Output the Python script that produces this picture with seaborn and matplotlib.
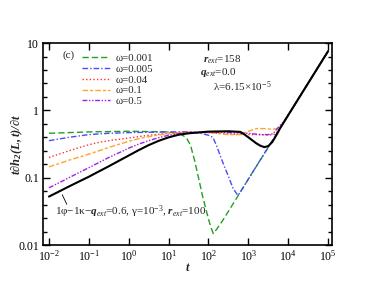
import numpy as np
import pandas as pd
import matplotlib
matplotlib.use("Agg")
import matplotlib.pyplot as plt
import matplotlib.ticker as mticker
import seaborn as sns

# ---------------- data ----------------
t_black = [0.01, 0.0178, 0.0316, 0.0562, 0.1, 0.178, 0.316, 0.562, 1, 1.78, 3.16, 5.62,
           10, 17.8, 31.6, 100, 316, 631, 794, 1000, 1259, 1585, 1995, 2512, 3162,
           3981, 5012, 6310, 1e4, 3.16e4, 1e5]
y_black = [0.0525, 0.0624, 0.0741, 0.0877, 0.1035, 0.124, 0.148, 0.178, 0.214, 0.257,
           0.305, 0.353, 0.398, 0.435, 0.457, 0.484, 0.490, 0.479, 0.44, 0.398, 0.359,
           0.324, 0.299, 0.285, 0.295, 0.339, 0.427, 0.548, 0.851, 2.54, 7.59]

t_w0001 = [0.01, 0.1, 1, 10, 20, 28.2, 35.5, 44.7, 56.2, 70.8, 89.1, 112, 132, 158,
           224, 347, 575, 1000, 3162, 1e4, 3.16e4, 1e5]
y_w0001 = [0.457, 0.479, 0.490, 0.479, 0.447, 0.389, 0.302, 0.182, 0.100, 0.0537,
           0.0316, 0.0191, 0.0148, 0.0170, 0.0229, 0.0347, 0.0562, 0.0955, 0.284,
           0.851, 2.54, 7.59]

t_w0005 = [0.01, 0.0316, 0.1, 0.316, 1, 10, 31.6, 63.1, 100, 129, 158, 229, 316, 407,
           537, 603, 1000, 3162, 1e4, 3.16e4, 1e5]
y_w0005 = [0.355, 0.398, 0.437, 0.457, 0.468, 0.479, 0.479, 0.457, 0.427, 0.398,
           0.302, 0.168, 0.105, 0.0708, 0.055, 0.0589, 0.0955, 0.285, 0.851, 2.54, 7.59]

t_w004 = [0.01, 0.0178, 0.0316, 0.0562, 0.1, 0.178, 0.316, 0.562, 1, 3.16, 10, 31.6,
          100, 316, 1000, 1995, 3162, 4467, 5623, 7079, 1e4, 3.16e4, 1e5]
y_w004 = [0.200, 0.224, 0.251, 0.279, 0.309, 0.335, 0.355, 0.372, 0.389, 0.427, 0.457,
          0.479, 0.468, 0.447, 0.437, 0.437, 0.43, 0.44, 0.49, 0.612, 0.851, 2.54, 7.59]

t_w01 = [0.01, 0.0178, 0.0316, 0.0562, 0.1, 0.178, 0.316, 0.562, 1, 1.78, 3.16, 5.62,
         10, 31.6, 100, 316, 631, 1000, 1585, 2512, 3981, 5623, 7079, 1e4, 3.16e4, 1e5]
y_w01 = [0.145, 0.162, 0.182, 0.202, 0.224, 0.251, 0.282, 0.313, 0.347, 0.380, 0.407,
         0.432, 0.447, 0.468, 0.468, 0.437, 0.437, 0.49, 0.537, 0.537, 0.525, 0.54, 0.62,
         0.851, 2.54, 7.59]

t_w05 = [0.01, 0.0178, 0.0316, 0.0562, 0.1, 0.178, 0.316, 0.562, 1, 1.78, 3.16, 5.62,
         10, 17.8, 31.6, 100, 316, 1000, 1995, 3162, 4169, 5623, 7943, 11220, 19953,
         3.16e4, 1e5]
y_w05 = [0.0708, 0.0841, 0.100, 0.119, 0.141, 0.168, 0.200, 0.234, 0.275, 0.316, 0.355,
         0.394, 0.427, 0.452, 0.468, 0.479, 0.468, 0.457, 0.437, 0.437, 0.45, 0.56, 0.70,
         0.95, 1.66, 2.54, 7.59]

omega_labels = ["\u03c9=0.001", "\u03c9=0.005", "\u03c9=0.04", "\u03c9=0.1", "\u03c9=0.5"]
x_ticks = [1e-2, 1e-1, 1e0, 1e1, 1e2, 1e3, 1e4, 1e5]
x_tick_labels = ["10$^{-2}$", "10$^{-1}$", "10$^{0}$", "10$^{1}$", "10$^{2}$",
                 "10$^{3}$", "10$^{4}$", "10$^{5}$"]
y_ticks = [0.01, 0.1, 1, 10]
y_tick_labels = ["0.01", "0.1", "1", "10"]

# ---------------- style ----------------
sns.set_style("ticks")
plt.rcParams["font.family"] = ["Liberation Serif", "DejaVu Serif"]
plt.rcParams["mathtext.fontset"] = "custom"
plt.rcParams["mathtext.rm"] = "Liberation Serif"
plt.rcParams["mathtext.it"] = "Liberation Serif:italic"
plt.rcParams["mathtext.bf"] = "Liberation Serif:bold:italic"

fig = plt.figure(figsize=(3.74, 2.89), dpi=100)
ax = fig.add_axes([0.115, 0.152, 0.773, 0.699])
ax.set_xscale("log")
ax.set_yscale("log")

series = [
    (t_w0001, y_w0001, "#22a022", (0, (4.5, 2.2))),
    (t_w0005, y_w0005, "#4a4aff", (0, (4, 1.5, 1, 1.5))),
    (t_w004, y_w004, "#ff3030", (0, (1, 1.6))),
    (t_w01, y_w01, "#ffa42a", (0, (4, 1.5, 2.2, 1.5))),
    (t_w05, y_w05, "#a020e8", (0, (3.5, 1.2, 1, 1.2, 1, 1.2))),
]
for (tt, yy, col, ls), lab in zip(series, omega_labels):
    df = pd.DataFrame({"t": tt, "y": yy})
    sns.lineplot(data=df, x="t", y="y", color=col, linestyle=ls, lw=1.0,
                 label=lab, estimator=None, sort=False, ax=ax, legend=False)

dfb = pd.DataFrame({"t": t_black, "y": y_black})
sns.lineplot(data=dfb, x="t", y="y", color="black", lw=1.5, estimator=None,
             sort=False, ax=ax, legend=False)

ax.set_xlim(10 ** -2.15, 10 ** 5.1)
ax.set_ylim(0.01, 10)
ax.set_xlabel("")
ax.set_ylabel("")

ax.xaxis.set_major_locator(mticker.FixedLocator(x_ticks))
ax.xaxis.set_major_formatter(mticker.FixedFormatter(x_tick_labels))
ax.xaxis.set_minor_locator(mticker.NullLocator())
ax.yaxis.set_major_locator(mticker.FixedLocator(y_ticks))
ax.yaxis.set_major_formatter(mticker.FixedFormatter(y_tick_labels))
ax.yaxis.set_minor_locator(mticker.LogLocator(base=10, subs=10 ** np.array([0.2, 0.4, 0.6, 0.8])))
ax.yaxis.set_minor_formatter(mticker.NullFormatter())

ax.tick_params(which="both", direction="in", top=True, right=True, labelsize=8.5,
               width=1.0, color="black", labelcolor="black")
ax.tick_params(which="major", length=5, pad=3)
ax.tick_params(which="minor", length=3)
for s in ax.spines.values():
    s.set_linewidth(1.2)
    s.set_color("black")

leg = ax.legend(handles=ax.get_lines()[:5], labels=omega_labels, loc="upper left",
                bbox_to_anchor=(0.135, 0.95), frameon=False, fontsize=7.8,
                handlelength=2.6, handletextpad=0.5, labelspacing=0.12, borderpad=0,
                borderaxespad=0)

ax.text(0.066, 0.94, "(c)", transform=ax.transAxes, fontsize=8, va="center", ha="left")
ax.text(0.554, 0.916, r"$\mathbf{r}_{ext}$=158", transform=ax.transAxes, fontsize=8,
        va="center", ha="left")
ax.text(0.543, 0.856, r"$\mathbf{q}_{ext}$=0.0", transform=ax.transAxes, fontsize=8,
        va="center", ha="left")
ax.text(0.588, 0.782, "\u03bb=6.15\u00d710$^{-5}$", transform=ax.transAxes, fontsize=8,
        va="center", ha="left")
ax.text(0.042, 0.163,
        "1\u03c6\u22121\u03ba\u2212$\\mathbf{q}_{ext}$=0.6, \u03b3=10$^{-3}$, $\\mathbf{r}_{ext}$=100",
        transform=ax.transAxes, fontsize=8, va="center", ha="left")
ax.annotate("", xy=(0.02, 0.061), xytext=(0.03, 0.037),
            arrowprops=dict(arrowstyle="-", lw=0.6, color="black"))

fig.text(0.045, 0.50, r"$\mathbf{t\partial h_2(L,t)/\partial t}$", rotation=90,
         fontsize=9, ha="center", va="center")
fig.text(0.503, 0.073, r"$\mathbf{t}$", fontsize=9, ha="center", va="center")

fig.savefig("out.png", dpi=100)
